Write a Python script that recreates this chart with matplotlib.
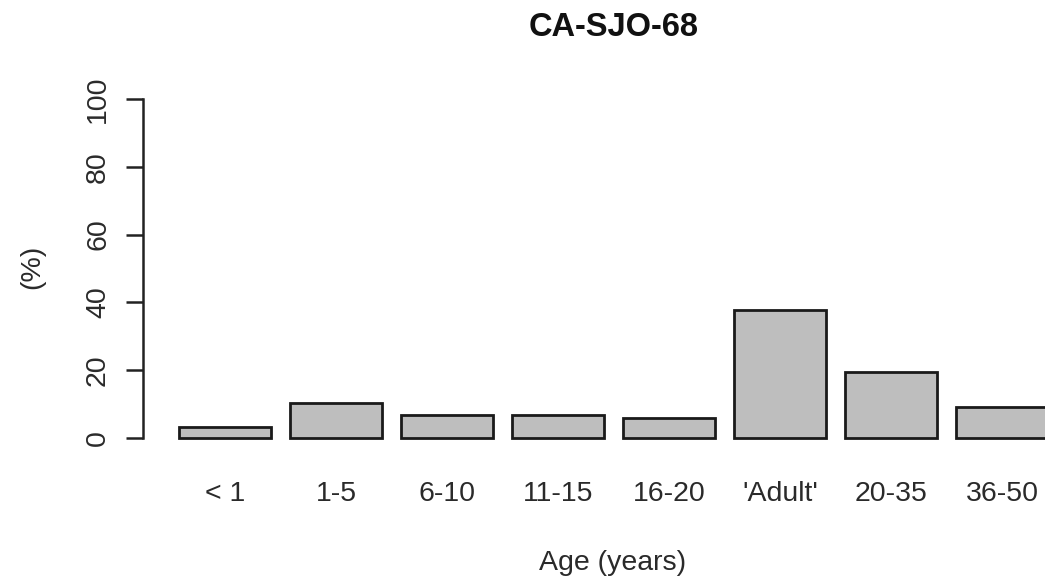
import matplotlib
matplotlib.use("Agg")
import matplotlib.pyplot as plt

categories = ["< 1", "1-5", "6-10", "11-15", "16-20", "'Adult'", "20-35", "36-50"]
values = [3.2, 10.2, 6.9, 6.9, 6.0, 37.7, 19.4, 9.0]
yticks = [0, 20, 40, 60, 80, 100]

plt.rcParams['font.family'] = ['Liberation Sans', 'DejaVu Sans']

W, H = 1045, 578
fig = plt.figure(figsize=(W / 100, H / 100), dpi=100)
left_px, right_px, top_px, bot_px = 143, 1045, 99, 438
ax = fig.add_axes([left_px / W, (H - bot_px) / H, (right_px - left_px) / W, (bot_px - top_px) / H])

x = list(range(len(categories)))
ax.bar(x, values, width=0.833, color="#bebebe", edgecolor="#1a1a1a", linewidth=2.0, clip_on=False)

ax.set_xlim(-0.741, 7.385)
ax.set_ylim(0, 100)
for s in ["top", "right", "bottom"]:
    ax.spines[s].set_visible(False)
ax.spines["left"].set_bounds(0, 100)
ax.spines["left"].set_linewidth(1.8)
ax.spines["left"].set_color("#222222")

ax.set_yticks(yticks)
ax.set_yticklabels([str(v) for v in yticks], rotation=90, va="center", fontsize=20.5, color="#2a2a2a")
ax.tick_params(axis="y", length=12, width=1.8, color="#222222", pad=11)

ax.set_xticks(x)
ax.set_xticklabels(categories, fontsize=20.5, color="#2a2a2a")
ax.tick_params(axis="x", length=0, pad=31)

fig.text(613 / W, 1 - 570 / H, "Age (years)", ha="center", va="baseline", fontsize=20.5, color="#2a2a2a")
fig.text(32 / W, 1 - 267 / H, "(%)", ha="center", va="center", rotation=90, fontsize=20.5, color="#2a2a2a")
fig.text(614 / W, 1 - 36 / H, "CA-SJO-68", ha="center", va="baseline", fontsize=23.5, fontweight="bold", color="#111111")

fig.savefig("out.png", dpi=100)
